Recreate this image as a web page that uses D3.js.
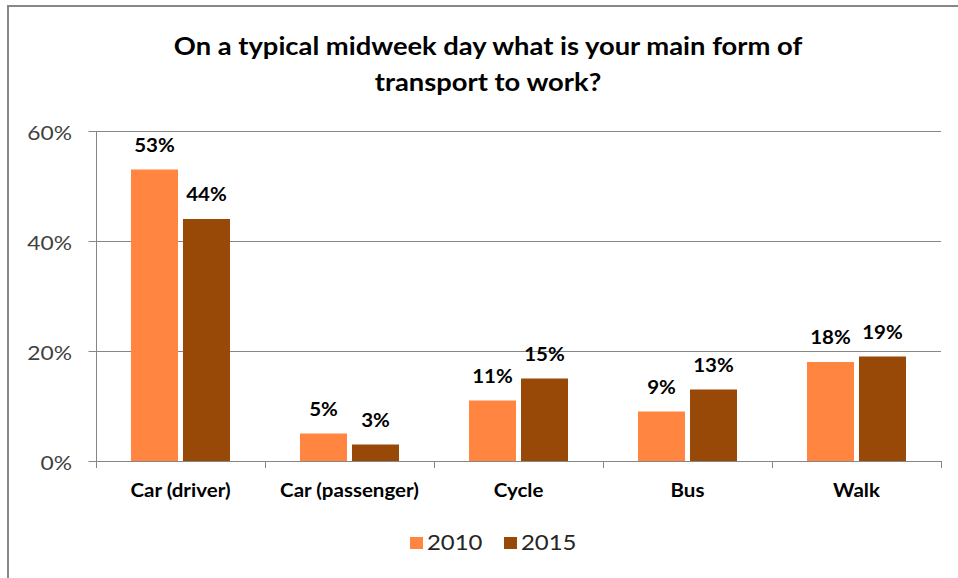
<!DOCTYPE html>
<html>
<head>
<meta charset="utf-8">
<script src="https://cdn.jsdelivr.net/npm/d3@7"></script>
<style>
  body { margin: 0; background: #fff; }
  svg { display: block; }
  text { font-family: Lato, "Open Sans", sans-serif; }
</style>
</head>
<body>
<svg id="chart" width="958" height="578"></svg>
<script>
// Survey answers: main form of transport to work, share of respondents (%)
const categories = ["Car (driver)", "Car (passenger)", "Cycle", "Bus", "Walk"];
const seriesNames = ["2010", "2015"];
const values2010 = [53, 5, 11, 9, 18];
const values2015 = [44, 3, 15, 13, 19];
const yTicks = [0, 20, 40, 60];
const titleLines = ["On a typical midweek day what is your main form of", "transport to work?"];

const seriesColors = ["#FF8540", "#984807"];
const seriesValues = [values2010, values2015];

const svg = d3.select("#chart");
const SX = 1.14; // horizontal text stretch

// Places a text element with a horizontal stretch about its anchor point
function label(parent, x, y, str, opts) {
  return parent.append("text")
    .attr("transform", `translate(${x},${y}) scale(${SX},1)`)
    .attr("text-anchor", opts.anchor || "start")
    .attr("font-size", opts.size)
    .attr("font-weight", opts.weight || "normal")
    .attr("fill", opts.fill || "#000")
    .text(str);
}

// Outer frame
svg.append("line").attr("x1", 7).attr("x2", 958).attr("y1", 6).attr("y2", 6)
  .attr("stroke", "#878787").attr("stroke-width", 2);
svg.append("line").attr("x1", 8).attr("x2", 8).attr("y1", 5).attr("y2", 578)
  .attr("stroke", "#878787").attr("stroke-width", 2);

// Title
titleLines.forEach((line, i) => {
  label(svg, 488, 55 + i * 36, line, { anchor: "middle", size: 24, weight: "bold" });
});

const plotLeft = 96, plotRight = 941, plotTop = 131, plotBottom = 461;

const x = d3.scaleBand().domain(categories).range([plotLeft, plotRight]).padding(0);
const x1 = d3.scaleBand().domain(seriesNames).range([-49.5, 49.5]).paddingInner(0.096);
const y = d3.scaleLinear().domain([0, 60]).range([plotBottom, plotTop]);

// Horizontal gridlines
svg.append("g").selectAll("line").data(yTicks.filter(d => d > 0)).join("line")
  .attr("x1", plotLeft).attr("x2", plotRight)
  .attr("y1", d => Math.round(y(d)) + 0.5).attr("y2", d => Math.round(y(d)) + 0.5)
  .attr("stroke", "#868686").attr("stroke-width", 1);

// Y axis (line + ticks)
const yAxis = d3.axisLeft(y).tickValues(yTicks).tickSize(8).tickFormat("");
const yg = svg.append("g").attr("transform", `translate(${plotLeft + 0.5},0)`).call(yAxis);
yg.selectAll("path, line").attr("stroke", "#868686");
yg.select(".domain").attr("d", `M0,${plotTop}V${plotBottom}`);
yg.selectAll(".tick").attr("transform", d => `translate(0,${Math.round(y(d)) + 0.5})`);

// Y tick labels
yTicks.forEach(d => {
  label(svg, 72, y(d) + 9, d + "%", { anchor: "end", size: 20, fill: "#404040" });
});

// X axis baseline with tick marks at category boundaries
const boundaries = categories.map(c => x(c)).concat([plotRight]);
svg.append("line").attr("x1", plotLeft).attr("x2", plotRight)
  .attr("y1", plotBottom + 0.5).attr("y2", plotBottom + 0.5)
  .attr("stroke", "#868686");
svg.append("g").selectAll("line").data(boundaries).join("line")
  .attr("x1", d => Math.round(d) + 0.5).attr("x2", d => Math.round(d) + 0.5)
  .attr("y1", plotBottom).attr("y2", plotBottom + 7)
  .attr("stroke", "#868686");

// Bars and value labels
const groups = svg.append("g").selectAll("g").data(categories).join("g")
  .attr("transform", c => `translate(${x(c) + x.bandwidth() / 2},0)`);

seriesNames.forEach((s, si) => {
  groups.append("rect")
    .attr("x", x1(s))
    .attr("width", x1.bandwidth())
    .attr("y", (c, i) => y(seriesValues[si][i]))
    .attr("height", (c, i) => plotBottom - y(seriesValues[si][i]))
    .attr("fill", seriesColors[si]);
  groups.each(function (c, i) {
    label(d3.select(this), x1(s) + x1.bandwidth() / 2, y(seriesValues[si][i]) - 18,
      seriesValues[si][i] + "%", { anchor: "middle", size: 18, weight: "bold" });
  });
});

// Category labels
categories.forEach(c => {
  label(svg, x(c) + x.bandwidth() / 2, 497, c, { anchor: "middle", size: 18, weight: "bold" });
});

// Legend
const legendX = [410, 504];
seriesNames.forEach((s, si) => {
  svg.append("rect").attr("x", legendX[si]).attr("y", 537).attr("width", 13).attr("height", 12)
    .attr("fill", seriesColors[si]);
  label(svg, legendX[si] + 17, 550, s, { size: 21, fill: "#262626" });
});
</script>
</body>
</html>
